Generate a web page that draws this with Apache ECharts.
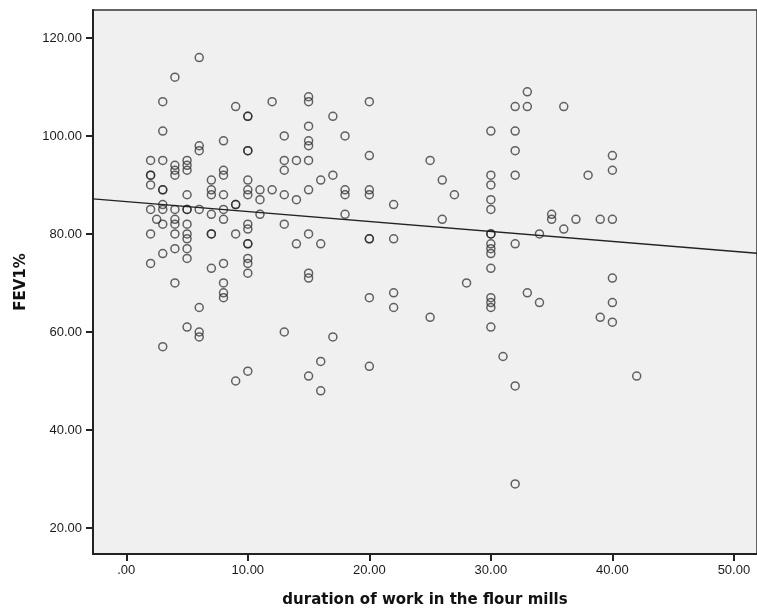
<!DOCTYPE html>
<html>
<head>
<meta charset="utf-8">
<script src="https://cdn.jsdelivr.net/npm/echarts@6/dist/echarts.min.js"></script>
<style>
  html, body { margin: 0; padding: 0; background: #fff; }
  #chart { width: 757px; height: 613px; }
</style>
</head>
<body>
<div id="chart"></div>
<script>
// years worked in the mill, one entry per column of points
const durationYears = [2, 2.5, 3, 4, 5, 6, 7, 8, 9, 10, 11, 12, 13, 14, 15, 16, 17, 18, 20, 22,
  25, 26, 27, 28, 30, 31, 32, 33, 34, 35, 36, 37, 38, 39, 40, 42]
// FEV1% values read for each duration above
const fevByDuration = [
  [95, 92, 92, 90, 85, 80, 74],
  [83],
  [107, 101, 95, 89, 89, 86, 85, 82, 76, 57],
  [112, 94, 93, 92, 85, 83, 82, 80, 77, 70],
  [95, 94, 93, 88, 85, 85, 82, 80, 79, 77, 75, 61],
  [116, 98, 97, 85, 65, 60, 59],
  [91, 89, 88, 84, 80, 80, 73],
  [99, 93, 92, 88, 85, 83, 74, 70, 68, 67],
  [106, 86, 86, 80, 50],
  [104, 104, 97, 97, 91, 89, 88, 82, 81, 78, 78, 75, 74, 72, 52],
  [89, 87, 84],
  [107, 89],
  [100, 95, 93, 88, 82, 60],
  [95, 87, 78],
  [108, 107, 102, 99, 98, 95, 89, 80, 72, 71, 51],
  [91, 78, 54, 48],
  [104, 92, 59],
  [100, 89, 88, 84],
  [107, 96, 89, 88, 79, 79, 67, 53],
  [86, 79, 68, 65],
  [95, 63],
  [91, 83],
  [88],
  [70],
  [101, 92, 90, 87, 85, 80, 80, 78, 77, 76, 73, 67, 66, 65, 61],
  [55],
  [106, 101, 97, 92, 78, 49, 29],
  [109, 106, 68],
  [80, 66],
  [84, 83],
  [106, 81],
  [83],
  [92],
  [83, 63],
  [96, 93, 83, 71, 66, 62],
  [51],
]

const xTicks = [0, 10, 20, 30, 40, 50]
const xTickLabels = ['.00', '10.00', '20.00', '30.00', '40.00', '50.00']
const yTicks = [20, 40, 60, 80, 100, 120]
const yTickLabels = ['20.00', '40.00', '60.00', '80.00', '100.00', '120.00']

// linear fit line
const fitIntercept = 86.6
const fitSlope = -0.203

const xMin = -2.74
const xMax = 51.9
const yMin = 14.7
const yMax = 125.7

const points = []
durationYears.forEach((d, i) => {
  fevByDuration[i].forEach((v) => points.push([d, v]))
})
const fitLine = [
  [xMin, fitIntercept + fitSlope * xMin],
  [xMax, fitIntercept + fitSlope * xMax],
]

const axisColor = '#222'
const labelStyle = { fontFamily: 'Liberation Sans', fontSize: 13, color: '#1a1a1a' }
const titleStyle = { fontFamily: 'DejaVu Sans', fontWeight: 'bold', fontSize: 15, color: '#111' }

const chart = echarts.init(document.getElementById('chart'))
chart.setOption({
  animation: false,
  grid: {
    left: 93,
    top: 10,
    right: -2,
    bottom: 57,
    show: true,
    backgroundColor: '#f0f0f0',
    borderColor: '#333',
    borderWidth: 1.5,
  },
  xAxis: {
    type: 'value',
    min: xMin,
    max: xMax,
    name: 'duration of work in the flour mills',
    nameLocation: 'middle',
    nameGap: 39,
    nameTextStyle: titleStyle,
    axisLine: { show: true, onZero: false, lineStyle: { color: axisColor, width: 2 } },
    axisTick: { show: true, length: 7, customValues: xTicks, lineStyle: { color: axisColor, width: 2 } },
    axisLabel: {
      ...labelStyle,
      margin: 10,
      customValues: xTicks,
      formatter: (v) => xTickLabels[xTicks.indexOf(v)],
    },
    splitLine: { show: false },
  },
  yAxis: {
    type: 'value',
    min: yMin,
    max: yMax,
    name: 'FEV1%',
    nameLocation: 'middle',
    nameGap: 64,
    nameTextStyle: titleStyle,
    axisLine: { show: true, onZero: false, lineStyle: { color: axisColor, width: 2 } },
    axisTick: { show: true, length: 7, customValues: yTicks, lineStyle: { color: axisColor, width: 2 } },
    axisLabel: {
      ...labelStyle,
      margin: 11,
      customValues: yTicks,
      formatter: (v) => yTickLabels[yTicks.indexOf(v)],
    },
    splitLine: { show: false },
  },
  series: [
    {
      type: 'scatter',
      data: points,
      symbol: 'circle',
      symbolSize: 8,
      itemStyle: { color: 'rgba(0,0,0,0)', borderColor: 'rgba(30,30,30,0.85)', borderWidth: 1.5 },
      z: 3,
    },
    {
      type: 'line',
      data: fitLine,
      symbol: 'none',
      lineStyle: { color: '#222', width: 1.3 },
      z: 2,
    },
  ],
})
</script>
</body>
</html>
